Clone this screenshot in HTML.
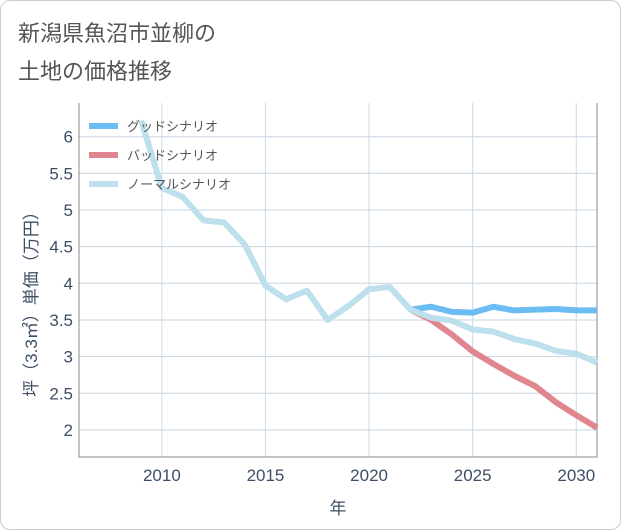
<!DOCTYPE html>
<html><head><meta charset="utf-8"><style>
html,body{margin:0;padding:0;background:#fff;}
body{width:621px;height:530px;overflow:hidden;font-family:"Liberation Sans","Noto Sans CJK JP",sans-serif;}
#frame{position:absolute;left:0;top:0;width:619px;height:528px;border:1px solid #ccc;border-radius:10px;}
.title{position:absolute;left:18px;font-size:22px;color:#555;}
</style></head><body>
<div id="frame"></div>
<div class="title" style="top:16px">新潟県魚沼市並柳の</div>
<div class="title" style="top:54px">土地の価格推移</div>
<svg id="chart" width="621" height="530" style="position:absolute;left:0;top:0"></svg>
<script>
const normalYears=[2009,2010,2011,2012,2013,2014,2015,2016,2017,2018,2019,2020,2021,2022,2023,2024,2025,2026,2027,2028,2029,2030,2031];
const normalValues=[6.22,5.3,5.18,4.86,4.83,4.53,3.97,3.78,3.9,3.5,3.69,3.92,3.95,3.64,3.53,3.49,3.37,3.34,3.24,3.18,3.08,3.04,2.92];
const forecastYears=[2022,2023,2024,2025,2026,2027,2028,2029,2030,2031];
const goodValues=[3.64,3.68,3.61,3.6,3.68,3.63,3.64,3.65,3.63,3.63];
const badValues=[3.64,3.5,3.3,3.07,2.9,2.74,2.6,2.38,2.2,2.03];
const yTicks=[2,2.5,3,3.5,4,4.5,5,5.5,6];
const xTicks=[2010,2015,2020,2025,2030];
const L=79,R=597,T=103,B=457;
const x=yr=>L+(yr-2006)/(2031-2006)*(R-L);
const y=v=>136.7+(6-v)*73.3;
const svg=document.getElementById('chart');
const NS='http://www.w3.org/2000/svg';
function mk(t,a){const e=document.createElementNS(NS,t);for(const k in a)e.setAttribute(k,a[k]);svg.appendChild(e);return e;}
yTicks.forEach(v=>{
 const g=mk('line',{x1:L,x2:R,y1:y(v),y2:y(v),stroke:'#c8d4e0','stroke-width':1});
 
 
 const t=mk('text',{x:L-6,y:y(v)+6,'text-anchor':'end','font-size':17,fill:'#3d4f66'});
 t.textContent=v;
 
 
});
xTicks.forEach(v=>{
 const g=mk('line',{x1:x(v),x2:x(v),y1:T,y2:B,stroke:'#c5dcea','stroke-width':1});
 
 
 const t=mk('text',{x:x(v),y:B+24,'text-anchor':'middle','font-size':17,fill:'#3d4f66'});
 t.textContent=v;
 
 
});
const ax=mk('polyline',{points:`${L},${T} ${L},${B} ${R},${B} ${R},${T}`,fill:'none',stroke:'#888','stroke-width':1});


function series(xs,vs,color,name){
 const p=mk('polyline',{points:xs.map((yr,i)=>x(yr)+','+y(vs[i])).join(' '),fill:'none',stroke:color,'stroke-width':6,'stroke-linejoin':'round'});
 
 
}
series(forecastYears,badValues,'#e0868f','bad-scenario-line');
series(forecastYears,goodValues,'#6bbcf2','good-scenario-line');
series(normalYears,normalValues,'#bde0ec','normal-scenario-line');
const leg=[['グッドシナリオ','#6bbcf2'],['バッドシナリオ','#e0868f'],['ノーマルシナリオ','#bde0ec']];
leg.forEach((l,i)=>{
 const yy=126+i*29;
 const s=mk('line',{x1:89,x2:118,y1:yy,y2:yy,stroke:l[1],'stroke-width':6});
 
 
 const t=mk('text',{x:127,y:yy+5,'font-size':13,fill:'#555'});
 t.textContent=l[0];
 
 
});
const yt=mk('text',{x:0,y:0,'font-size':17,fill:'#3d4f66','text-anchor':'middle',transform:'translate(37,300) rotate(-90)'});
yt.textContent='坪（3.3㎡）単価（万円）';


const xt=mk('text',{x:338,y:514,'font-size':17,fill:'#3d4f66','text-anchor':'middle'});
xt.textContent='年';


</script>
</body></html>
